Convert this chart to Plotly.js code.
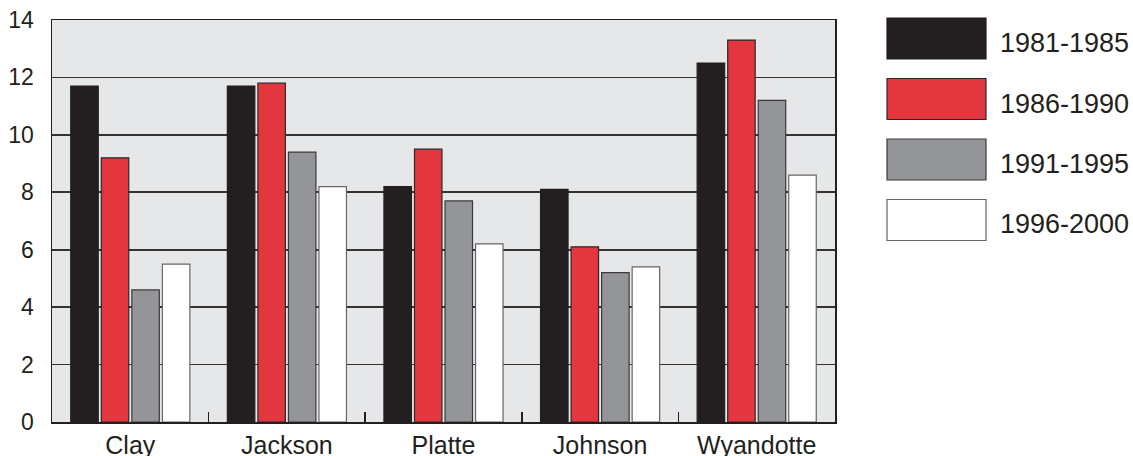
<!DOCTYPE html>
<html>
<head>
<meta charset="utf-8">
<script src="https://cdn.plot.ly/plotly-3.0.1.min.js"></script>
<style>html,body{margin:0;padding:0;background:#fff;}#chart{width:1133px;height:456px;}</style>
</head>
<body>
<div id="chart"></div>
<script>
// ---- data ----
const counties = ["Clay", "Jackson", "Platte", "Johnson", "Wyandotte"];
const seriesNames = ["1981-1985", "1986-1990", "1991-1995", "1996-2000"];
const v1981_1985 = [11.7, 11.7, 8.2, 8.1, 12.5];
const v1986_1990 = [9.2, 11.8, 9.5, 6.1, 13.3];
const v1991_1995 = [4.6, 9.4, 7.7, 5.2, 11.2];
const v1996_2000 = [5.5, 8.2, 6.2, 5.4, 8.6];
const yTicks = [0, 2, 4, 6, 8, 10, 12, 14];

// ---- styles ----
const fills = ["#231f20", "#e3363e", "#939598", "#ffffff"];
const outlines = ["#231f20", "#2a2a2a", "#3a3a3a", "#666666"];
const allValues = [v1981_1985, v1986_1990, v1991_1995, v1996_2000];

const W = 1133, H = 456;
const mL = 52, mR = 298, mT = 20, mB = 34;
const plotW = W - mL - mR, plotH = H - mT - mB;

const traces = allValues.map((vals, i) => ({
  type: "bar",
  x: counties,
  y: vals,
  name: seriesNames[i],
  marker: {color: fills[i], line: {color: outlines[i], width: 1.2}},
  hoverinfo: "x+y+name"
}));

// legend boxes drawn as shapes in paper coords
const px2x = px => (px - mL) / plotW;
const py2y = py => (H - mB - py) / plotH;
const shapes = [];
const annotations = [];
seriesNames.forEach((nm, i) => {
  const top = 18 + 60.5 * i, bot = top + 41;
  shapes.push({
    type: "rect", xref: "paper", yref: "paper",
    x0: px2x(887), x1: px2x(986), y0: py2y(bot), y1: py2y(top),
    fillcolor: fills[i], line: {color: outlines[i], width: 1.2}
  });
  annotations.push({
    xref: "paper", yref: "paper", x: px2x(998), y: py2y(top + 25),
    xanchor: "left", yanchor: "middle", showarrow: false, text: nm,
    font: {family: "Liberation Sans, Arial, sans-serif", size: 27, color: "#231f20"}
  });
});

const layout = {
  width: W, height: H,
  margin: {l: mL, r: mR, t: mT, b: mB, pad: 0},
  paper_bgcolor: "#ffffff",
  plot_bgcolor: "#e6e7e8",
  barmode: "group",
  bargap: 0.22,
  bargroupgap: 0.1,
  showlegend: false,
  font: {family: "Liberation Sans, Arial, sans-serif", color: "#231f20"},
  xaxis: {
    type: "category",
    showline: true, linecolor: "#231f20", linewidth: 1.5, mirror: true,
    showgrid: false, zeroline: false,
    ticks: "inside", tickson: "boundaries", ticklen: 10, tickwidth: 1.5, tickcolor: "#231f20",
    tickfont: {size: 25, color: "#231f20"},
    ticklabelstandoff: 0
  },
  yaxis: {
    range: [0, 14],
    tickmode: "array", tickvals: yTicks, ticktext: yTicks.map(String),
    showline: true, linecolor: "#231f20", linewidth: 1.5, mirror: true,
    showgrid: true, gridcolor: "#333333", gridwidth: 1.6,
    zeroline: false, ticks: "",
    tickfont: {size: 23, color: "#231f20"},
    ticklabelstandoff: 12
  },
  shapes: shapes,
  annotations: annotations
};

Plotly.newPlot("chart", traces, layout, {displayModeBar: false, staticPlot: true});
</script>
</body>
</html>
